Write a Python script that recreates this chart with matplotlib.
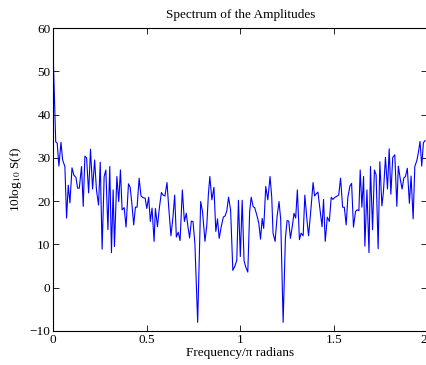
import matplotlib
matplotlib.use("Agg")
import matplotlib.pyplot as plt

plt.rcParams['font.family'] = ['Liberation Serif', 'DejaVu Serif']
plt.rcParams['mathtext.fontset'] = 'stix'

# frequency (in units of pi rad) and spectrum level in dB
freq = [0.000, 0.013, 0.021, 0.030, 0.041, 0.050, 0.062, 0.071, 0.080, 0.089,
        0.100, 0.110, 0.121, 0.130, 0.139, 0.151, 0.160, 0.169, 0.178, 0.189,
        0.199, 0.210, 0.221, 0.231, 0.242, 0.251, 0.261, 0.272, 0.281, 0.292,
        0.302, 0.311, 0.320, 0.327, 0.340, 0.350, 0.359, 0.368, 0.379, 0.389,
        0.402, 0.411, 0.420, 0.430, 0.439, 0.448, 0.459, 0.469, 0.480, 0.491,
        0.500, 0.510, 0.519, 0.528, 0.539, 0.546, 0.557, 0.567, 0.578, 0.587,
        0.597, 0.608, 0.617, 0.629, 0.640, 0.649, 0.658, 0.668, 0.678, 0.690,
        0.701, 0.711, 0.720, 0.729, 0.738, 0.747, 0.757, 0.772, 0.788, 0.798,
        0.811, 0.821, 0.829, 0.837, 0.848, 0.859, 0.869, 0.878, 0.887, 0.898,
        0.909, 0.919, 0.928, 0.937, 0.948, 0.960, 0.971, 0.981, 0.990, 1.000,
        1.010, 1.020, 1.029, 1.040, 1.050, 1.058, 1.069, 1.077, 1.088, 1.099,
        1.108, 1.117, 1.125, 1.136, 1.147, 1.159, 1.168, 1.175, 1.186, 1.197,
        1.207, 1.216, 1.229, 1.241, 1.250, 1.259, 1.268, 1.279, 1.287, 1.296,
        1.305, 1.316, 1.325, 1.336, 1.345, 1.357, 1.365, 1.378, 1.389, 1.397,
        1.406, 1.415, 1.426, 1.437, 1.445, 1.454, 1.465, 1.476, 1.486, 1.495,
        1.506, 1.515, 1.526, 1.536, 1.547, 1.556, 1.566, 1.575, 1.586, 1.595,
        1.605, 1.616, 1.625, 1.634, 1.641, 1.650, 1.659, 1.666, 1.677, 1.688,
        1.696, 1.707, 1.717, 1.726, 1.737, 1.746, 1.757, 1.765, 1.776, 1.787,
        1.796, 1.805, 1.815, 1.826, 1.837, 1.845, 1.856, 1.865, 1.874, 1.883,
        1.893, 1.904, 1.913, 1.924, 1.933, 1.944, 1.952, 1.961, 1.970, 1.979,
        1.988]
level = [53.0, 33.7, 33.4, 28.1, 33.6, 29.5, 28.0, 16.1, 23.7, 19.6,
         27.7, 26.0, 25.5, 23.0, 23.0, 28.0, 18.8, 30.4, 30.0, 21.9,
         32.0, 22.8, 29.5, 22.5, 19.1, 29.0, 8.9, 25.7, 27.2, 13.4,
         28.0, 8.1, 22.6, 9.5, 25.7, 19.9, 27.2, 18.0, 18.5, 14.0,
         24.0, 23.2, 19.5, 14.5, 18.6, 18.6, 25.3, 21.2, 20.8, 20.7,
         18.3, 20.9, 15.3, 18.4, 10.7, 18.3, 14.1, 18.4, 22.0, 21.4,
         21.2, 24.3, 18.7, 12.0, 16.4, 21.4, 11.7, 12.8, 10.9, 22.6,
         15.3, 17.2, 14.1, 11.5, 15.4, 15.3, 10.3, -8.0, 19.9, 17.6,
         10.7, 14.5, 21.4, 25.7, 20.3, 23.2, 13.0, 15.9, 11.4, 14.1,
         16.3, 16.6, 17.8, 20.9, 18.0, 4.0, 5.0, 6.3, 20.2, 7.2,
         20.2, 6.2, 4.8, 3.6, 17.6, 20.9, 18.7, 18.5, 16.8, 14.9,
         11.2, 16.0, 13.7, 23.4, 20.3, 25.7, 20.9, 12.6, 10.7, 16.6,
         19.9, 15.7, -8.0, 11.4, 15.5, 15.4, 11.4, 14.5, 17.2, 16.1,
         22.6, 11.1, 12.6, 12.0, 21.4, 15.3, 12.0, 18.4, 24.3, 21.2,
         21.7, 22.1, 18.0, 14.1, 20.4, 10.7, 16.3, 15.3, 20.9, 20.4,
         20.9, 21.1, 21.4, 25.3, 18.6, 18.6, 14.5, 20.9, 23.5, 24.1,
         14.0, 17.6, 18.0, 17.8, 27.2, 18.6, 25.7, 9.6, 22.6, 8.1,
         28.0, 13.4, 27.2, 26.1, 9.0, 29.1, 18.9, 22.0, 30.1, 22.8,
         32.1, 21.6, 30.1, 30.7, 18.8, 28.1, 24.9, 22.8, 25.3, 25.7,
         27.6, 19.5, 25.8, 15.9, 28.0, 29.4, 31.2, 33.8, 28.1, 33.5,
         34.0]

xticks = [0, 0.5, 1, 1.5, 2]
xticklabels = ['0', '0.5', '1', '1.5', '2']
yticks = [-10, 0, 10, 20, 30, 40, 50, 60]

fig = plt.figure(figsize=(4.27, 3.65), dpi=100)
ax = fig.add_axes([0.1248, 0.0932, 0.876, 0.830])

ax.plot(freq, level, color=(0, 0, 1), lw=0.8)

ax.set_xlim(0, 2)
ax.set_ylim(-10, 60)
ax.set_xticks(xticks)
ax.set_xticklabels(xticklabels)
ax.set_yticks(yticks)
ax.tick_params(direction='in', top=True, right=True, length=4, width=0.6,
               labelsize=9.5, pad=2)
# last label sits on the figure edge; pull it inside
ax.get_xticklabels()[-1].set_horizontalalignment('right')
for s in ax.spines.values():
    s.set_linewidth(0.8)

ax.set_title('Spectrum of the Amplitudes', fontsize=9.5, pad=7)
ax.set_xlabel('Frequency/\u03c0 radians', fontsize=9.5, labelpad=1)
ax.set_ylabel(r'10log$_{10}$ S(f)', fontsize=9.5, labelpad=4)

fig.savefig('out.png', dpi=100)
